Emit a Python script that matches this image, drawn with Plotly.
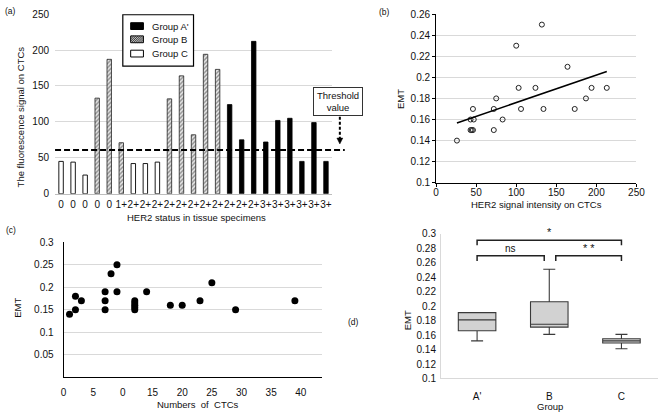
import numpy as np
import plotly.graph_objects as go

W, H = 669, 418
FONT = "Liberation Sans, Arial, Helvetica, sans-serif"

# ---------------- data ----------------
# (a) fluorescence signal per patient
a_labels = ["0", "0", "0", "0", "0", "1+", "2+", "2+", "2+", "2+", "2+", "2+",
            "2+", "2+", "2+", "2+", "2+", "3+", "3+", "3+", "3+", "3+", "3+"]
a_groups = ["C", "C", "C", "B", "B", "B", "C", "C", "C", "B", "B", "B",
            "B", "B", "A'", "A'", "A'", "A'", "A'", "A'", "A'", "A'", "A'"]
a_values = [45, 44, 26, 133, 187, 71, 42, 42, 44, 132, 164, 82,
            194, 173, 124, 75, 212, 72, 102, 105, 45, 99, 45]
threshold = 61

# (b) HER2 intensity vs EMT
b_x = [26, 43, 46, 47, 43, 44.5, 46, 72, 72, 75, 83, 100, 103, 106,
       124, 132, 134, 164, 173, 187, 194, 213]
b_y = [0.14, 0.16, 0.17, 0.16, 0.15, 0.15, 0.15, 0.17, 0.15, 0.18, 0.16, 0.23,
       0.19, 0.17, 0.19, 0.25, 0.17, 0.21, 0.17, 0.18, 0.19, 0.19]

# (c) number of CTCs vs EMT
c_x = [1, 2, 2, 3, 7, 7, 7, 8, 9, 9, 12, 12, 12, 12, 12, 14, 18, 20, 23, 25, 29, 39]
c_y = [0.14, 0.18, 0.15, 0.17, 0.19, 0.17, 0.15, 0.23, 0.25, 0.19,
       0.17, 0.165, 0.16, 0.155, 0.15, 0.19, 0.16, 0.16, 0.17, 0.21, 0.15, 0.17]
c_ticks = [0, 5, 10, 15, 20, 25, 30, 35, 40]
c_ticktext = ["0", "5", "0", "15", "20", "25", "30", "35", "40"]

# (d) box statistics per group
d_groups = ["A'", "B", "C"]
d_q1 = [0.166, 0.171, 0.149]
d_median = [0.181, 0.175, 0.152]
d_q3 = [0.191, 0.206, 0.155]
d_low = [0.152, 0.161, 0.141]
d_high = [0.191, 0.251, 0.161]
# significance brackets: (left group idx, right group idx, top y, leg y, label)
d_brackets = [(0, 2, 0.291, 0.284, "*"),
              (0, 0.93, 0.2695, 0.2625, "ns"),
              (1.09, 2, 0.2695, 0.2625, "* *")]


def px(x):
    return x / W


def py(y):
    return 1 - y / H


fig = go.Figure()

# ---------------- (a) bars ----------------
styles = {
    "A'": dict(marker=dict(color="black", line=dict(color="black", width=0.8))),
    "B": dict(marker=dict(color="white", line=dict(color="#222", width=0.8),
                          pattern=dict(shape="/", fgcolor="#333", bgcolor="#e6e6e6",
                                       size=3, solidity=0.45))),
    "C": dict(marker=dict(color="white", line=dict(color="black", width=0.9))),
}
for g in ["A'", "B", "C"]:
    xs = [i for i, gg in enumerate(a_groups) if gg == g]
    ys = [a_values[i] for i in xs]
    fig.add_trace(go.Bar(x=xs, y=ys, width=0.37, name="Group " + g,
                         showlegend=False, xaxis="x", yaxis="y", **styles[g]))

# ---------------- (b) scatter + trend ----------------
fig.add_trace(go.Scatter(x=b_x, y=b_y, mode="markers", xaxis="x2", yaxis="y2",
                         marker=dict(symbol="circle-open", size=5, color="#222",
                                     line=dict(width=1)),
                         showlegend=False))
slope, icpt = np.polyfit(b_x, b_y, 1)
tx = np.array([min(b_x), max(b_x)])
fig.add_trace(go.Scatter(x=tx, y=slope * tx + icpt, mode="lines", xaxis="x2", yaxis="y2",
                         line=dict(color="black", width=1.6), showlegend=False))

# ---------------- (c) scatter ----------------
fig.add_trace(go.Scatter(x=c_x, y=c_y, mode="markers", xaxis="x3", yaxis="y3",
                         marker=dict(size=7, color="black"), showlegend=False))

# ---------------- (d) boxes ----------------
fig.add_trace(go.Box(x=[0, 1, 2], q1=d_q1, median=d_median, q3=d_q3,
                     lowerfence=d_low, upperfence=d_high, width=0.52,
                     whiskerwidth=0.32, fillcolor="#d2d2d2",
                     line=dict(color="#3a3a3a", width=1.1),
                     boxpoints=False, xaxis="x4", yaxis="y4", showlegend=False))

tickfont = dict(family=FONT, size=10, color="#111")
grid = "#d9d9d9"

fig.update_layout(
    width=W, height=H, margin=dict(l=0, r=0, t=0, b=0),
    paper_bgcolor="white", plot_bgcolor="white",
    font=dict(family=FONT, size=10, color="#111"),
    barmode="overlay", showlegend=False,
    xaxis=dict(domain=[px(53), px(335)], range=[-0.5, 22.5], anchor="y",
               tickmode="array", tickvals=list(range(len(a_labels))), ticktext=a_labels,
               tickangle=0, showgrid=False, zeroline=False, showline=True,
               linecolor="#bdbdbd", linewidth=1, ticks="", tickfont=tickfont,
               ticklabelstandoff=1),
    yaxis=dict(domain=[py(193.3), py(8.3)], range=[0, 250], dtick=50, anchor="x",
               showgrid=True, gridcolor=grid, zeroline=False, showline=False,
               ticks="", tickfont=tickfont, ticklabelstandoff=5),
    xaxis2=dict(domain=[px(441), px(645)], range=[0, 250], dtick=50, anchor="y2",
                tickangle=0, showgrid=False, zeroline=False, showline=True,
                linecolor="black", linewidth=1, ticks="outside", ticklen=3,
                tickcolor="black", tickfont=tickfont, ticklabelstandoff=-3),
    yaxis2=dict(domain=[py(182), py(8.3)], range=[0.1, 0.26], dtick=0.02, anchor="x2",
                showgrid=True, gridcolor=grid, zeroline=False, showline=True,
                linecolor="black", linewidth=1, ticks="outside", ticklen=3,
                tickcolor="black", tickfont=tickfont),
    xaxis3=dict(domain=[px(61.7), px(325)], range=[0, 43.6], anchor="y3",
                tickmode="array", tickvals=c_ticks, ticktext=c_ticktext, tickangle=0,
                showgrid=False, zeroline=False, showline=True, linecolor="black",
                linewidth=1, ticks="", tickfont=tickfont, ticklabelstandoff=6),
    yaxis3=dict(domain=[py(382), py(243.3)], range=[0, 0.3], anchor="x3",
                tickmode="array", tickvals=[0.05, 0.1, 0.15, 0.2, 0.25, 0.3],
                showgrid=True, gridcolor=grid, zeroline=False, showline=True,
                linecolor="black", linewidth=1, ticks="", tickfont=tickfont,
                ticklabelstandoff=7),
    xaxis4=dict(domain=[px(446), px(666.5)], range=[-0.5, 2.5], anchor="y4",
                tickmode="array", tickvals=[0, 1, 2], ticktext=d_groups, tickangle=0,
                showgrid=False, zeroline=False, showline=True, linecolor=grid,
                linewidth=1, ticks="", tickfont=tickfont, ticklabelstandoff=9),
    yaxis4=dict(domain=[py(383.5), py(234.5)], range=[0.1, 0.3], dtick=0.02, anchor="x4",
                showgrid=False, zeroline=False, showline=True, linecolor=grid,
                linewidth=1, ticks="", tickfont=tickfont, ticklabelstandoff=2),
)

shapes = []
annots = []


def label(text, x, y, size=9.5, angle=0, xanchor="center"):
    annots.append(dict(text=text, x=px(x), y=py(y), xref="paper", yref="paper",
                       showarrow=False, textangle=angle, xanchor=xanchor,
                       yanchor="middle", font=dict(family=FONT, size=size, color="#111")))


# threshold dashed line (extends slightly past the plot area)
shapes.append(dict(type="line", xref="paper", yref="y", x0=px(53), x1=px(348),
                   y0=threshold, y1=threshold,
                   line=dict(color="black", width=2, dash="6px,3px")))
# threshold callout arrow
shapes.append(dict(type="line", xref="paper", yref="paper", x0=px(343), x1=px(343),
                   y0=py(114), y1=py(137), line=dict(color="black", width=2, dash="3px,2px")))
shapes.append(dict(type="path", xref="paper", yref="paper",
                   path=f"M {px(340)},{py(136)} L {px(346)},{py(136)} L {px(343)},{py(142)} Z",
                   fillcolor="black", line=dict(color="black", width=0.5)))
annots.append(dict(text="Threshold<br>value", x=px(341), y=py(98.5), xref="paper",
                   yref="paper", showarrow=False, xanchor="center", yanchor="middle",
                   bordercolor="#333", borderwidth=1, borderpad=2, bgcolor="white",
                   width=44, height=23, font=dict(family=FONT, size=9.5, color="#111")))

# manual legend for (a)
shapes.append(dict(type="rect", xref="paper", yref="paper", x0=px(122), x1=px(194),
                   y0=py(62), y1=py(9), line=dict(color="black", width=1.2),
                   fillcolor="white", layer="above"))
leg = [("Group A'", 20.7, "black"), ("Group B", 34.3, "hatch"), ("Group C", 49, "white")]
for text, yc, kind in leg:
    x0, x1, y0, y1 = 130, 143, yc - 3.5, yc + 3.5
    fill = "black" if kind == "black" else ("#bdbdbd" if kind == "hatch" else "white")
    shapes.append(dict(type="rect", xref="paper", yref="paper", x0=px(x0), x1=px(x1),
                       y0=py(y1), y1=py(y0), fillcolor=fill,
                       line=dict(color="black", width=1), layer="above"))
    if kind == "hatch":
        p = ""
        for s in np.arange(x0 - 6, x1, 2.2):
            xa, ya = s, y1
            xb, yb = s + 7, y0
            if xa < x0:
                ya = y1 - (x0 - xa)
                xa = x0
            if xb > x1:
                yb = y0 + (xb - x1)
                xb = x1
            p += f"M {px(xa)},{py(ya)} L {px(xb)},{py(yb)} "
        shapes.append(dict(type="path", xref="paper", yref="paper", path=p,
                           line=dict(color="#222", width=0.8), layer="above"))
    label(text, 150, yc, size=9.5, xanchor="left")

# brackets for (d)
for xl, xr, yt, yl, txt in d_brackets:
    shapes.append(dict(type="path", xref="x4", yref="y4",
                       path=f"M {xl},{yl} L {xl},{yt} L {xr},{yt} L {xr},{yl}",
                       line=dict(color="#222", width=1.5)))
    annots.append(dict(text=txt, x=(xl + xr) / 2, y=yt, xref="x4", yref="y4",
                       showarrow=False, yanchor="bottom", yshift=0,
                       font=dict(family=FONT, size=11 if "*" in txt else 10, color="#111")))

# panel labels and titles
label("(a)", 8, 5, size=8.5)
label("The fluorescence signal on CTCs", 18, 114, angle=-90)
label("HER2 status in tissue specimens", 197, 218)
label("(b)", 388, 6, size=8.5)
label("EMT", 405, 96, angle=-90)
label("HER2 signal intensity on CTCs", 543, 204)
label("(c)", 8, 231, size=8.5)
label("EMT", 14, 311, angle=-90)
label("Numbers  of  CTCs", 199, 410)
label("(d)", 357, 325, size=8.5)
label("EMT", 412, 324, angle=-90)
label("Group", 557, 412.5)

fig.update_layout(shapes=shapes, annotations=annots)
fig.write_html("out.html")
